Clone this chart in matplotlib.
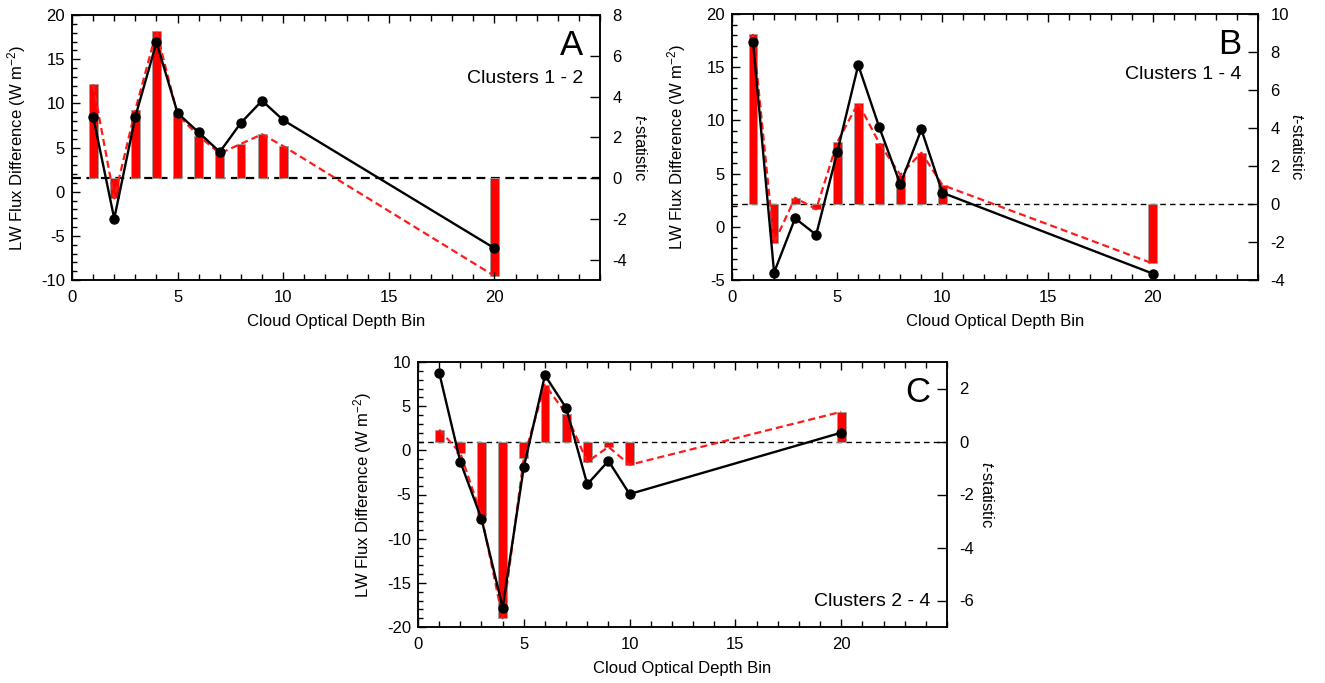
import matplotlib
matplotlib.use('Agg')
import matplotlib.pyplot as plt
from matplotlib.ticker import MultipleLocator

plt.rcParams['font.family'] = ['Liberation Sans', 'DejaVu Sans']
plt.rcParams['mathtext.fontset'] = 'custom'
plt.rcParams['mathtext.rm'] = 'Liberation Sans'
plt.rcParams['mathtext.it'] = 'Liberation Sans:italic'
plt.rcParams['axes.unicode_minus'] = False

# --- Data ---
bins = [1, 2, 3, 4, 5, 6, 7, 8, 9, 10, 20]

flux_a = [8.5, -3.05, 8.5, 16.9, 8.9, 6.7, 4.5, 7.8, 10.3, 8.1, -6.4]
tstat_a = [4.6, -1.0, 3.35, 7.2, 3.1, 2.07, 1.21, 1.68, 2.15, 1.57, -4.8]

flux_b = [17.4, -4.3, 0.8, -0.75, 7.0, 15.2, 9.35, 4.0, 9.15, 3.2, -4.4]
tstat_b = [8.95, -2.05, 0.33, -0.28, 3.25, 5.32, 3.2, 1.53, 2.7, 1.0, -3.13]

flux_c = [8.8, -1.3, -7.75, -17.8, -1.9, 8.5, 4.8, -3.85, -1.2, -4.95, 2.0]
tstat_c = [0.45, -0.44, -2.8, -6.67, -0.62, 2.14, 1.05, -0.77, -0.2, -0.88, 1.12]

W, H = 1325, 683
fig = plt.figure(figsize=(W / 100, H / 100), dpi=100)


# --- Panel helper ---
def draw_panel(box, flux, tstat, flux_lim, t_lim, t_ticks, letter, title,
               title_y, zero_lw, zero_dash):
    x0, y_top, x1, y_bot = box
    ax = fig.add_axes([x0 / W, 1 - y_bot / H, (x1 - x0) / W, (y_bot - y_top) / H])
    ax2 = ax.twinx()
    ax.set_zorder(ax2.get_zorder() + 1)
    ax.patch.set_visible(False)

    # t-statistic bars + dashed red line (right axis)
    ax2.bar(bins, tstat, width=0.42, color='#ff0000', edgecolor='#a0a0a0',
            linewidth=0.6, zorder=2)
    ax2.plot(bins, tstat, color='#ff1a1a', lw=1.6, linestyle=(0, (3.2, 1.8)), zorder=3)
    ax2.axhline(0, color='black', lw=zero_lw, linestyle=(0, zero_dash), zorder=1)
    ax2.set_ylim(*t_lim)
    ax2.set_yticks(t_ticks)
    ax2.tick_params(axis='y', direction='in', length=7, width=1, pad=9, labelsize=12)
    ax2.set_ylabel('$t$-statistic', rotation=270, fontsize=12)
    ax2.yaxis.set_label_coords(1.09, 0.5)

    # flux difference line (left axis)
    ax.plot(bins, flux, color='black', lw=1.7, marker='o', markersize=6.5, zorder=5)
    ax.set_xlim(0, 25)
    ax.set_ylim(*flux_lim)
    ax.set_xticks([0, 5, 10, 15, 20])
    ax.xaxis.set_minor_locator(MultipleLocator(1))
    ax.yaxis.set_major_locator(MultipleLocator(5))
    ax.yaxis.set_minor_locator(MultipleLocator(1))
    ax.tick_params(which='both', direction='in', top=True, width=1, labelsize=12)
    ax.tick_params(axis='y', which='major', length=6, pad=5)
    ax.tick_params(axis='y', which='minor', length=3.5)
    ax.tick_params(axis='x', which='major', length=6, pad=7)
    ax.tick_params(axis='x', which='minor', length=4)
    ax.set_xlabel('Cloud Optical Depth Bin', fontsize=12)
    ax.xaxis.set_label_coords(0.5, -0.128)
    ax.set_ylabel('LW Flux Difference (W m$^{-2}$)', fontsize=12)
    ax.yaxis.set_label_coords(-0.083, 0.5)

    for spine in ax.spines.values():
        spine.set_linewidth(1.1)
    for spine in ax2.spines.values():
        spine.set_linewidth(1.1)

    ax.text(0.968, 0.885, letter, transform=ax.transAxes, ha='right', va='center',
            fontsize=25)
    ax.text(0.968, title_y, title, transform=ax.transAxes, ha='right', va='center',
            fontsize=14)
    return ax


draw_panel((72, 15, 600, 280), flux_a, tstat_a, (-10, 20), (-5, 8),
           [-4, -2, 0, 2, 4, 6, 8], 'A', 'Clusters 1 - 2', 0.762, 1.6, (4, 2.5))
draw_panel((732, 14, 1258, 280), flux_b, tstat_b, (-5, 20), (-4, 10),
           [-4, -2, 0, 2, 4, 6, 8, 10], 'B', 'Clusters 1 - 4', 0.772, 1.0, (4, 3))
draw_panel((418, 362, 947, 627), flux_c, tstat_c, (-20, 10), (-7, 3),
           [-6, -4, -2, 0, 2], 'C', 'Clusters 2 - 4', 0.098, 1.0, (4, 3))

fig.savefig('out.png', dpi=100)
plt.close(fig)
